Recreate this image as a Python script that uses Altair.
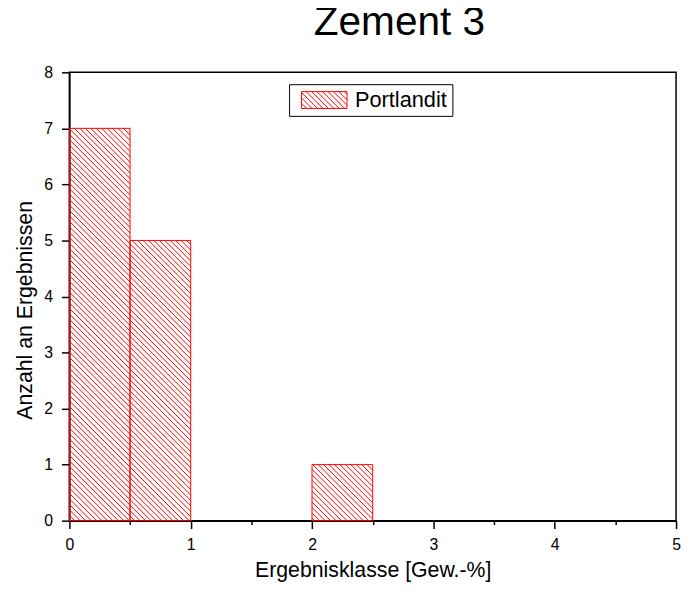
import altair as alt
import pandas as pd
import numpy as np

# ---- data ----
bin_start = [0.0, 0.5, 1.0, 1.5, 2.0, 2.5, 3.0, 3.5, 4.0, 4.5]
counts = [7, 5, 0, 0, 1, 0, 0, 0, 0, 0]
bin_width = 0.5
series_name = "Portlandit"
x_ticks = [0, 0.5, 1, 1.5, 2, 2.5, 3, 3.5, 4, 4.5, 5]
y_ticks = [0, 1, 2, 3, 4, 5, 6, 7, 8]

# ---- layout / style ----
W, H = 613, 453
X_DOM, Y_DOM = (0, 5), (0, 8)
RED = "#ff0000"
FONT = "Liberation Sans"
HATCH = 5.5  # horizontal hatch spacing in px

bars = pd.DataFrame({
    "x0": bin_start,
    "x1": [b + bin_width for b in bin_start],
    "count": counts,
    "series": series_name,
})
bars = bars[bars["count"] > 0]

# hatch segments derived from the bars (45 degree lines in pixel space)
sx = W / (X_DOM[1] - X_DOM[0])
sy = H / (Y_DOM[1] - Y_DOM[0])
segs = []
for _, r in bars.iterrows():
    u0, u1, vh = r.x0 * sx, r.x1 * sx, r["count"] * sy
    k0 = int(np.floor(u0 / HATCH))
    k1 = int(np.ceil((u1 + vh) / HATCH))
    for k in range(k0, k1 + 1):
        c = k * HATCH
        us = max(u0, c - vh)
        ue = min(u1, c)
        if ue - us > 0.3:
            segs.append({"hx": us / sx, "hy": (c - us) / sy,
                         "hx2": ue / sx, "hy2": (c - ue) / sy})
hatch = pd.DataFrame(segs)

# legend symbol: rectangle with hatch, in symbol units
unit = 8.5
Wu, Hu = 23 / unit, 1.0
d = HATCH / unit
parts = [f"M{-Wu:.3f},{-Hu:.3f}L{Wu:.3f},{-Hu:.3f}L{Wu:.3f},{Hu:.3f}L{-Wu:.3f},{Hu:.3f}Z"]
c = -Wu - Hu + d / 2
while c < Wu + Hu:
    xs = max(-Wu, -Hu - c)
    xe = min(Wu, Hu - c)
    if xe > xs:
        parts.append(f"M{xs:.3f},{xs + c:.3f}L{xe:.3f},{xe + c:.3f}")
    c += d
sym_path = "".join(parts)

xscale = alt.Scale(domain=list(X_DOM), nice=False, zero=False)
yscale = alt.Scale(domain=list(Y_DOM), nice=False)

x_axis = alt.Axis(
    values=x_ticks,
    labelExpr="datum.value % 1 == 0 ? format(datum.value, 'd') : ''",
    tickSize={"condition": {"test": "datum.value % 1 == 0", "value": 8}, "value": 4},
    grid=False, title="Ergebnisklasse [Gew.-%]", labelFlush=False,
    titleY=56, titleBaseline="alphabetic", labelPadding=8,
)
y_axis = alt.Axis(
    values=y_ticks, format="d", grid=False, tickSize=8, labelPadding=9,
    labelFlush=False,
    title="Anzahl an Ergebnissen",
    titleX=-38, titleY=240, titleBaseline="alphabetic",
)

bar_layer = alt.Chart(bars).mark_rect(fill="transparent", strokeWidth=1).encode(
    x=alt.X("x0:Q", scale=xscale, axis=x_axis),
    x2="x1:Q",
    y=alt.Y("count:Q", scale=yscale, axis=y_axis),
    y2=alt.datum(0),
    stroke=alt.Stroke(
        "series:N",
        scale=alt.Scale(range=[RED]),
        legend=alt.Legend(
            title=None, orient="none", legendX=222, legendY=12,
            strokeColor="black", padding=5,
            symbolType=sym_path, symbolSize=unit * unit * 4,
            symbolOffset=23 - unit + 5, labelOffset=20,
            symbolStrokeWidth=1, symbolFillColor="transparent",
            labelFontSize=22, labelFont=FONT, labelColor="black",
            labelExpr="datum.label + '\u00a0\u00a0\u00a0'",
            fillColor="white",
        ),
    ),
)

hatch_layer = alt.Chart(hatch).mark_rule(color=RED, strokeWidth=1).encode(
    x=alt.X("hx:Q", scale=xscale),
    y=alt.Y("hy:Q", scale=yscale),
    x2="hx2:Q",
    y2="hy2:Q",
)

chart = alt.layer(hatch_layer, bar_layer).properties(
    width=W, height=H,
    title=alt.TitleParams("Zement 3", fontSize=41, font=FONT, fontWeight="normal",
                          anchor="middle", dx=27, offset=21, color="black"),
    autosize=alt.AutoSizeParams(type="none"),
    padding={"left": 62, "top": 62, "right": 6, "bottom": 61},
).configure_view(
    stroke="black", strokeWidth=1.5
).configure_axis(
    domainColor="black", domainWidth=1.5, tickColor="black", tickWidth=1.5,
    labelFont=FONT, labelFontSize=16, labelColor="black",
    titleFont=FONT, titleFontSize=21.5, titleFontWeight="normal", titleColor="black",
)

chart.save("out.html", embed_options={"renderer": "svg", "actions": False})
